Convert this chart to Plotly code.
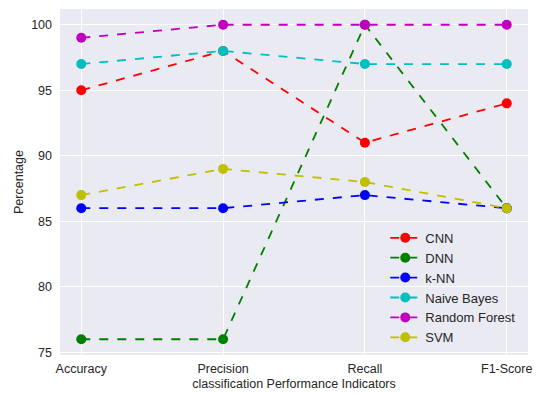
import plotly.graph_objects as go

categories = ["Accuracy", "Precision", "Recall", "F1-Score"]
cnn = [95, 98, 91, 94]
dnn = [76, 76, 100, 86]
knn = [86, 86, 87, 86]
naive_bayes = [97, 98, 97, 97]
random_forest = [99, 100, 100, 100]
svm = [87, 89, 88, 86]

series = [
    ("CNN", cnn, "#ff0000"),
    ("DNN", dnn, "#008000"),
    ("k-NN", knn, "#0000ff"),
    ("Naive Bayes", naive_bayes, "#00bfbf"),
    ("Random Forest", random_forest, "#bf00bf"),
    ("SVM", svm, "#bfbf00"),
]

fig = go.Figure()
for name, vals, col in series:
    fig.add_trace(go.Scatter(
        x=list(range(len(categories))), y=vals, name=name, mode="lines+markers",
        line=dict(color=col, width=1.8, dash="dash"),
        marker=dict(color=col, size=10),
    ))

font = "Liberation Sans, Arial, sans-serif"
fig.update_layout(
    width=539, height=394,
    margin=dict(l=60, r=11, t=9, b=39),
    paper_bgcolor="white", plot_bgcolor="#eaeaf2",
    font=dict(family=font, size=12, color="#262626"),
    showlegend=True,
    legend=dict(x=0.695, y=0.382, xanchor="left", yanchor="top",
                bgcolor="rgba(0,0,0,0)", font=dict(size=13), tracegroupgap=0),
    xaxis=dict(
        range=[-0.15, 3.15], tickmode="array", tickvals=list(range(4)), ticktext=categories,
        showgrid=True, gridcolor="white", gridwidth=1, zeroline=False, showline=False,
        ticks="", ticklabelstandoff=4, automargin=False, ticklabeloverflow="allow",
        tickfont=dict(size=12.5),
        title=dict(text="classification Performance Indicators", standoff=4, font=dict(size=12.5)),
    ),
    yaxis=dict(
        range=[74.8, 101.2], tickvals=[75, 80, 85, 90, 95, 100],
        showgrid=True, gridcolor="white", gridwidth=1, zeroline=False, showline=False,
        ticks="", ticklabelstandoff=7, automargin=False,
        tickfont=dict(size=12.5),
        title=dict(text="Percentage", standoff=4, font=dict(size=12.5)),
    ),
)

fig.write_html(
    "out.html",
    config={"displayModeBar": False},
    post_script="document.body.style.margin='0';document.body.style.padding='0';",
)
